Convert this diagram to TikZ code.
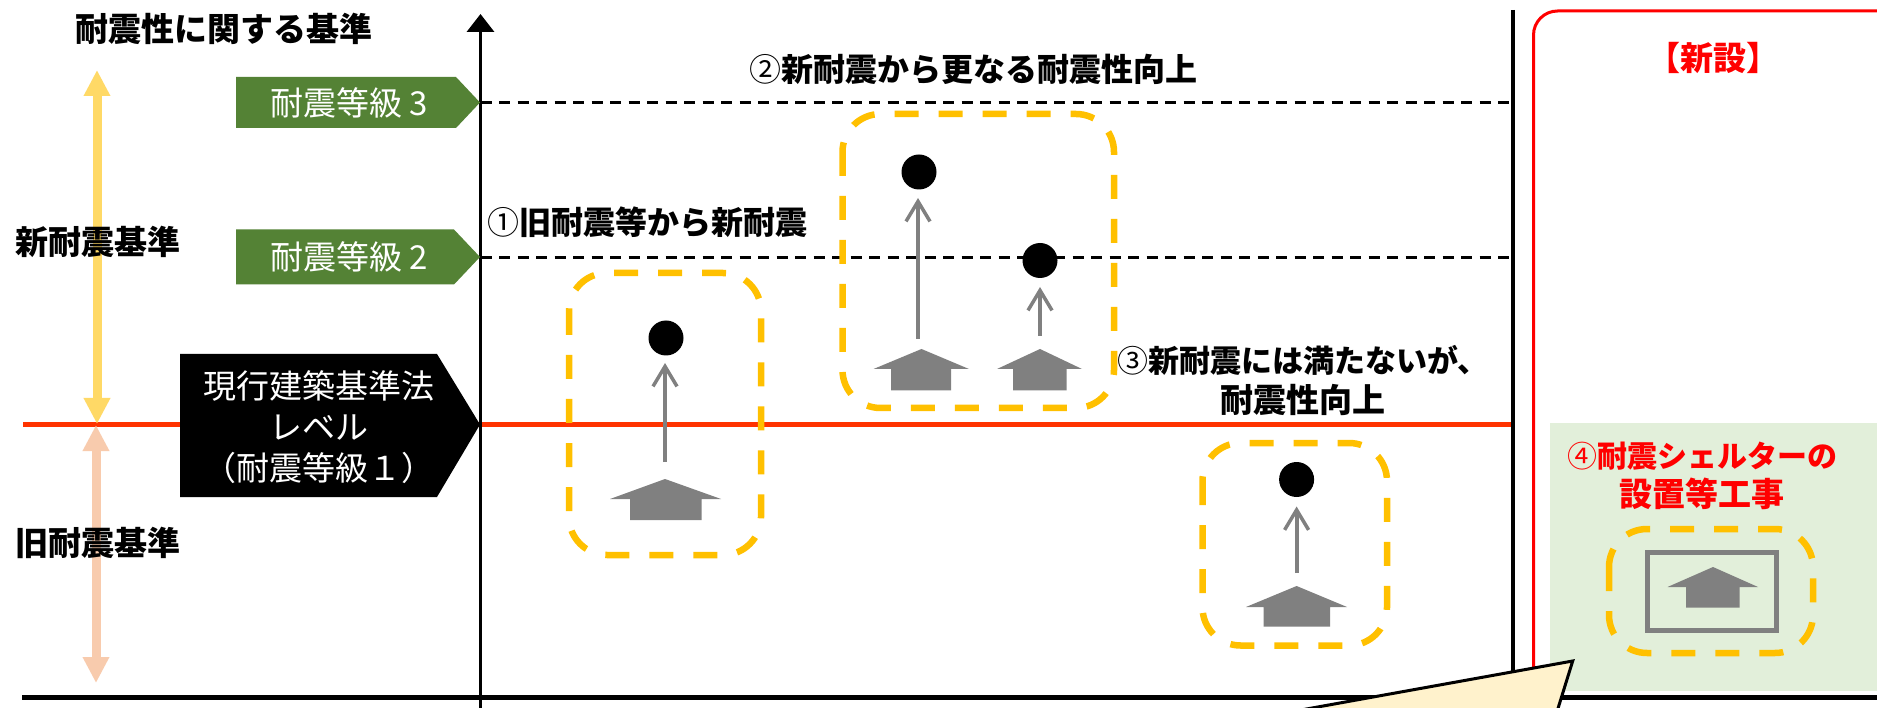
\documentclass[tikz,border=0pt]{standalone}
\usepackage{fontspec}
\usetikzlibrary{arrows.meta}
\setmainfont{Noto Sans CJK JP}
\tikzset{
 x=1pt,y=-1pt,
 lab/.style={font=\fontsize{33}{40}\selectfont\bfseries,align=center,inner sep=0pt,text=black},
 labm/.style={lab,font=\fontsize{32}{40}\selectfont\bfseries},
 redlab/.style={lab,text=red},
 plain/.style={font=\fontsize{33}{41}\selectfont,align=center,inner sep=0pt,text=white},
 gbox/.style={draw=gold,line width=6.5pt,dash pattern=on 24pt off 20pt,rounded corners=38pt},
 housefill/.style={fill=gry,draw=none},
 uparrow/.style={draw=gry,line width=4pt,-{Straight Barb[length=20pt,width=24pt,line width=3.5pt]}},
 dotc/.style={circle,fill=black,minimum size=35pt,inner sep=0pt},
 bigarrow/.style={line width=9pt,{Triangle[length=26pt,width=25pt]}-{Triangle[length=26pt,width=25pt]}},
 dashln/.style={draw=black,line width=2.4pt,dash pattern=on 11pt off 7.5pt},
}
\definecolor{gold}{HTML}{FFC000}
\definecolor{gry}{HTML}{808080}
\definecolor{greenb}{HTML}{548235}
\definecolor{yel}{HTML}{FFD966}
\definecolor{ora}{HTML}{F8CBAD}
\definecolor{redl}{HTML}{FF3300}
\definecolor{paleg}{HTML}{E2EFDA}
\definecolor{calc}{HTML}{FFF2CC}
\newcommand{\hut}[8]{\fill[housefill] (#1,#2) -- (#4,#3) -- (#6,#3) -- (#6,#8) -- (#7,#8) -- (#7,#3) -- (#5,#3) -- cycle;}
\newcommand{\circnum}[1]{{\mdseries #1}}
\begin{document}
\begin{tikzpicture}
\useasboundingbox (0,0) rectangle (1877,708);
\fill[white] (0,0) rectangle (1877,708);
% red frame and green panel
\draw[red,line width=3pt,rounded corners=24pt] (1890,11) -- (1533.5,11) -- (1533.5,697) -- (1890,697);
\fill[paleg] (1550,423) rectangle (1877,691);
% axes
\coordinate (bl) at (22,697.5); \coordinate (br) at (1877,697.5);
\draw[black,line width=4.5pt] (bl) -- (br);
\coordinate (rl) at (23,424.5); \coordinate (rr) at (1511,424.5);
\draw[redl,line width=5pt] (rl) -- (rr);
\coordinate (a0) at (480.5,708); \coordinate (a1) at (480.5,14);
\draw[black,line width=3.5pt,-{Triangle[length=18pt,width=27pt]}] (a0) -- (a1);
\coordinate (d0) at (1513,10); \coordinate (d1) at (1513,697);
\draw[black,line width=4.5pt] (d0) -- (d1);
% dashed levels
\coordinate (l3a) at (480.5,102.5); \coordinate (l3b) at (1511,102.5);
\coordinate (l2a) at (480.5,257.5); \coordinate (l2b) at (1511,257.5);
\draw[dashln] (l3a) -- (l3b);
\draw[dashln] (l2a) -- (l2b);
% big arrows
\coordinate (y0) at (97,70); \coordinate (y1) at (97,424);
\coordinate (o0) at (96,425); \coordinate (o1) at (96,683);
\draw[bigarrow,yel] (y0) -- (y1);
\draw[bigarrow,ora] (o0) -- (o1);
% pentagons
\fill[greenb] (236,77) -- (456,77) -- (480,102.5) -- (456,128) -- (236,128) -- cycle;
\fill[greenb] (236,229.5) -- (454,229.5) -- (480,257) -- (454,284.5) -- (236,284.5) -- cycle;
\fill[black] (180,354) -- (437,354) -- (480,424.5) -- (437,497) -- (180,497) -- cycle;
\node[plain] (g3) at (349,103) {耐震等級 3};
\node[plain] (g2) at (349,257) {耐震等級 2};
\node[plain] (g1) at (319,427) {現行建築基準法\\レベル\\（耐震等級１）};
% labels
\node[lab] (t0) at (224,29) {耐震性に関する基準};
\node[lab] (t1) at (98,241.5) {新耐震基準};
\node[lab] (t2) at (98,543) {旧耐震基準};
\node[labm] (t3) at (973,69) {\circnum{②}新耐震から更なる耐震性向上};
\node[labm] (t4) at (647,222) {\circnum{①}旧耐震等から新耐震};
% dashed boxes
\draw[gbox] (569,273) rectangle (761,555);
\draw[gbox] (842.5,114) rectangle (1114,408);
\draw[gbox] (1202.5,443) rectangle (1387,645.5);
\draw[gbox] (1609,529) rectangle (1813,653);
% houses: apex x,y, eave y, eave l,r, body l,r, bottom
\hut{665}{479}{499}{610}{721}{630}{701.5}{520}
\hut{921.5}{349}{369}{873.5}{969}{891}{951}{390.5}
\hut{1040}{349}{369}{997}{1082}{1013}{1066.5}{390.5}
\hut{1296.6}{586}{607}{1246}{1347}{1263.6}{1330}{626.6}
\hut{1713}{567}{587}{1667.5}{1758}{1686}{1739.6}{607.7}
\draw[gry,line width=5pt] (1647,552) rectangle (1776.7,630);
% dots
\node[dotc] (c1) at (666,338) {};
\node[dotc] (c2) at (919,172) {};
\node[dotc] (c3) at (1040,260.5) {};
\node[dotc] (c4) at (1296.6,479.5) {};
% arrows
\coordinate (s1) at (665,462); \coordinate (e1) at (665,363);
\coordinate (s2) at (918,339); \coordinate (e2) at (918,198);
\coordinate (s3) at (1040,336); \coordinate (e3) at (1040,287);
\coordinate (s4) at (1296.6,573); \coordinate (e4) at (1296.6,506.5);
\draw[uparrow] (s1) -- (e1);
\draw[uparrow] (s2) -- (e2);
\draw[uparrow] (s3) -- (e3);
\draw[uparrow] (s4) -- (e4);
% text over the boxes
\node[lab,font=\fontsize{31}{40}\selectfont\bfseries] (t5) at (1303,380) {\circnum{③}新耐震には満たないが、\\[0pt]{\fontsize{33}{40}\selectfont 耐震性向上}};
\node[redlab] (t6) at (1713,58) {【新設】};
\node[redlab,font=\fontsize{30}{39}\selectfont\bfseries] (t7) at (1702,475.5) {\circnum{④}耐震シェルターの\\{\fontsize{33}{39}\selectfont 設置等工事}};
% callout
\draw[draw=black,fill=calc,line width=3pt] (1301,710) -- (1572.7,661) -- (1557.5,710);
\end{tikzpicture}
\end{document}
